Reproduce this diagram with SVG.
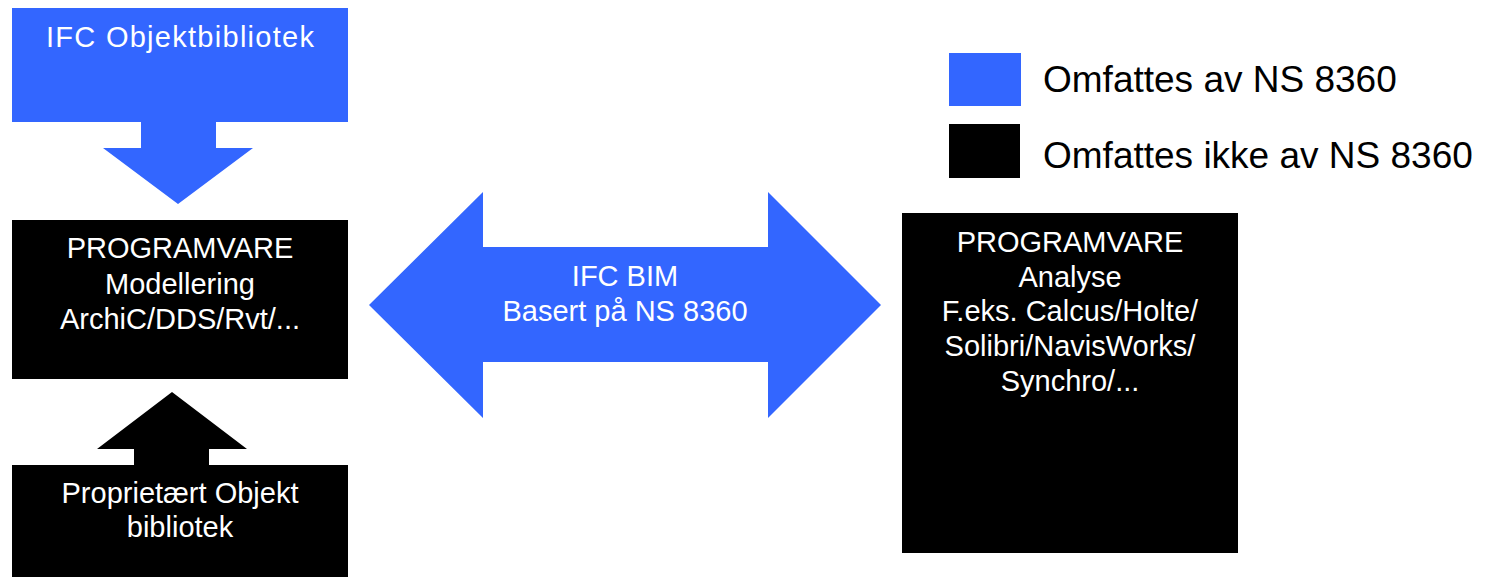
<svg xmlns="http://www.w3.org/2000/svg" width="1489" height="577" viewBox="0 0 1489 577">
<style>
.blue{fill:#3366FF}
.black{fill:#000000}
.t{font-family:"Liberation Sans",Arial,sans-serif;font-size:29px;fill:#FFFFFF;text-anchor:middle}
.lg{font-family:"Liberation Sans",Arial,sans-serif;font-size:37px;fill:#000000}
</style>
<rect width="1489" height="577" fill="#FFFFFF"/>
<g id="ifc-lib">
<rect class="blue" x="12" y="8" width="336" height="114"/>
<text class="t" x="180" y="47" textLength="268" lengthAdjust="spacing">IFC Objektbibliotek</text>
</g>
<g id="modellering">
<rect class="black" x="12" y="220" width="336" height="159"/>
<text class="t" x="180" y="258">PROGRAMVARE</text>
<text class="t" x="180" y="294">Modellering</text>
<text class="t" x="180" y="329">ArchiC/DDS/Rvt/...</text>
</g>
<g id="proprietaert">
<rect class="black" x="12" y="465" width="336" height="112"/>
<text class="t" x="180" y="503">Proprietært Objekt</text>
<text class="t" x="180" y="537">bibliotek</text>
</g>
<g id="analyse">
<rect class="black" x="902" y="213" width="336" height="340"/>
<text class="t" x="1070" y="252">PROGRAMVARE</text>
<text class="t" x="1070" y="287">Analyse</text>
<text class="t" x="1070" y="321">F.eks. Calcus/Holte/</text>
<text class="t" x="1070" y="356">Solibri/NavisWorks/</text>
<text class="t" x="1070" y="391">Synchro/...</text>
</g>
<g id="ifc-bim">
<polygon class="blue" points="369,305 483,192 483,247 768,247 768,192 881,305 768,418 768,362 483,362 483,418"/>
<text class="t" x="625" y="286">IFC BIM</text>
<text class="t" x="625" y="321">Basert på NS 8360</text>
</g>
<g id="legend">
<rect class="blue" x="949" y="53" width="72" height="53"/>
<text class="lg" x="1043" y="92">Omfattes av NS 8360</text>
<rect class="black" x="949" y="124" width="71" height="54"/>
<text class="lg" x="1043" y="168">Omfattes ikke av NS 8360</text>
</g>
<g id="connectors">
<polygon class="blue" points="141,122 216,122 216,148 253,148 178,204 103,148 141,148"/>
<polygon class="black" points="134,465 209,465 209,449 247,449 172,392 97,449 134,449"/>
</g>
</svg>
